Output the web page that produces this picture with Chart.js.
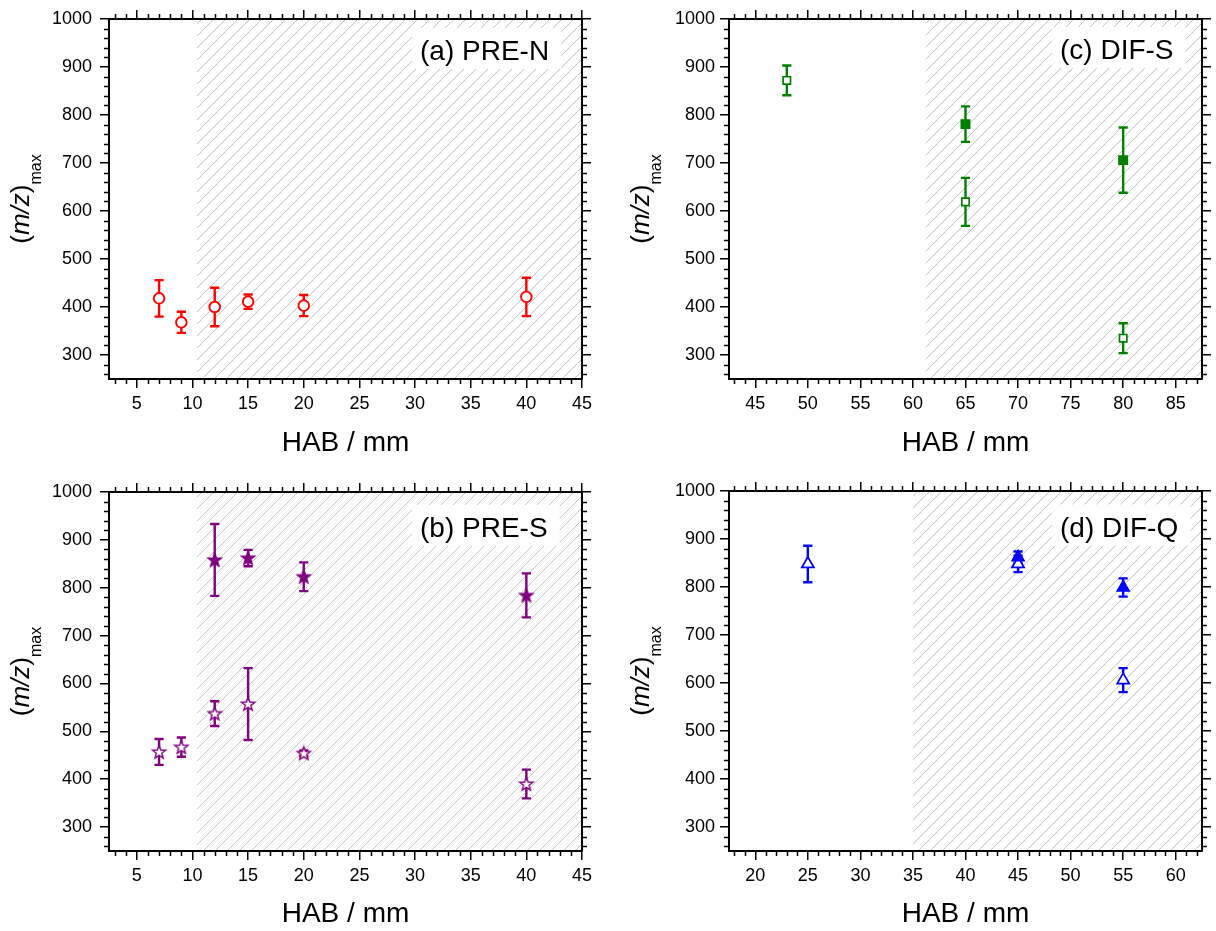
<!DOCTYPE html>
<html>
<head>
<meta charset="utf-8">
<title>(m/z)max vs HAB</title>
<script src="https://cdn.jsdelivr.net/npm/chart.js@4.4.1/dist/chart.umd.min.js"></script>
<style>
  html, body { margin: 0; padding: 0; background: #fff; }
  #wrap { position: relative; width: 1216px; height: 931px; overflow: hidden; }
  #wrap canvas { position: absolute; }
</style>
</head>
<body>
<div id="wrap">
  <canvas id="panelA" width="608" height="465" style="left:0;top:0"></canvas>
  <canvas id="panelC" width="608" height="465" style="left:608px;top:0"></canvas>
  <canvas id="panelB" width="608" height="466" style="left:0;top:465px"></canvas>
  <canvas id="panelD" width="608" height="466" style="left:608px;top:465px"></canvas>
</div>
<script>
// ---- data: height above burner (mm), (m/z)max and its uncertainty ----
const preN_hab = [7, 9, 12, 15, 20, 40];
const preN_mz  = [418, 368, 400, 411, 403, 421];
const preN_err = [38, 22, 40, 15, 22, 40];

const preS_habFilled = [12, 15, 20, 40];
const preS_mzFilled  = [858, 862, 823, 784];
const preS_errFilled = [75, 17, 30, 46];
const preS_habOpen = [7, 9, 12, 15, 20, 40];
const preS_mzOpen  = [457, 467, 537, 557, 454, 390];
const preS_errOpen = [27, 20, 26, 75, 6, 30];

const difS_habFilled = [65, 80];
const difS_mzFilled  = [781, 706];
const difS_errFilled = [37, 68];
const difS_habOpen = [48, 65, 80];
const difS_mzOpen  = [872, 619, 335];
const difS_errOpen = [31, 50, 31];

const difQ_habFilled = [45, 55];
const difQ_mzFilled  = [862, 799];
const difQ_errFilled = [12, 19];
const difQ_habOpen = [25, 45, 55];
const difQ_mzOpen  = [848, 848, 606];
const difQ_errOpen = [38, 17, 25];

// axis ticks and ranges
const yTicks = [300, 400, 500, 600, 700, 800, 900, 1000];
const yRange = [250, 1000];
const xTicksPre  = [5, 10, 15, 20, 25, 30, 35, 40, 45];
const xTicksDifS = [45, 50, 55, 60, 65, 70, 75, 80, 85];
const xTicksDifQ = [20, 25, 30, 35, 40, 45, 50, 55, 60];
const xRangePre  = [2.5, 45];
const xRangeDifS = [42.5, 87.5];
const xRangeDifQ = [17.5, 62.5];

// start of the shaded (hatched) HAB zone in each panel
const hatchFromPre  = 10.4;
const hatchFromDifS = 61.2;
const hatchFromDifQ = 35;

const panelLabels = ['(a) PRE-N', '(b) PRE-S', '(c) DIF-S', '(d) DIF-Q'];
const xTitle = 'HAB / mm';

// ---- styling ----
const FONT = '"Liberation Sans", Arial, Helvetica, sans-serif';
const RED = '#ff0000', GREEN = '#008000', PURPLE = '#800080', BLUE = '#0000ff';

function pts(xs, ys) { return xs.map((x, i) => ({ x: x, y: ys[i] })); }

// five-pointed star marker as a small canvas
function starMarker(color, filled) {
  const c = document.createElement('canvas');
  c.width = 18; c.height = 18;
  const g = c.getContext('2d');
  const R = 7, r = 2.9, cx = 9, cy = 9.4;
  g.beginPath();
  for (let k = 0; k < 10; k++) {
    const rad = (k % 2 === 0) ? R : r;
    const a = -Math.PI / 2 + k * Math.PI / 5;
    const px = cx + rad * Math.cos(a), py = cy + rad * Math.sin(a);
    if (k === 0) g.moveTo(px, py); else g.lineTo(px, py);
  }
  g.closePath();
  g.fillStyle = filled ? color : '#ffffff';
  g.fill();
  g.lineWidth = 1.4;
  g.lineJoin = 'miter';
  g.strokeStyle = color;
  g.stroke();
  return c;
}

// hatch, panel label, error bars, minor ticks and axis titles
const panelDecor = {
  id: 'panelDecor',
  beforeDatasetsDraw(chart, args, o) {
    const ctx = chart.ctx, a = chart.chartArea;
    const xs = chart.scales.x, ys = chart.scales.y;

    // diagonal hatch over the shaded HAB zone
    const hx = xs.getPixelForValue(o.hatchFrom);
    ctx.save();
    ctx.beginPath();
    ctx.rect(hx, a.top + 1, a.right - 1 - hx, a.bottom - a.top - 2);
    ctx.clip();
    ctx.strokeStyle = '#c4c4c4';
    ctx.lineWidth = 1;
    const H = a.bottom - a.top;
    ctx.beginPath();
    for (let x0 = a.right - H - 2000; x0 < a.right + 10; x0 += 12) {
      if (x0 + H < hx - 5) continue;
      ctx.moveTo(x0, a.bottom);
      ctx.lineTo(x0 + H, a.top);
    }
    ctx.stroke();
    ctx.restore();

    // panel label on a white patch
    ctx.save();
    ctx.font = '28px ' + FONT;
    const tw = ctx.measureText(o.label).width;
    const lx = a.left + o.labelDx, ly = a.top + o.labelDy;
    ctx.fillStyle = '#ffffff';
    ctx.fillRect(lx - 8, ly - 32, tw + 20, 41);
    ctx.fillStyle = '#000';
    ctx.textBaseline = 'alphabetic';
    ctx.textAlign = 'left';
    ctx.fillText(o.label, lx, ly);
    ctx.restore();

    // vertical error bars with caps
    chart.data.datasets.forEach((ds, i) => {
      const meta = chart.getDatasetMeta(i);
      ctx.save();
      ctx.strokeStyle = ds.borderColor;
      ctx.lineWidth = 2.4;
      ctx.lineCap = 'butt';
      meta.data.forEach((el, j) => {
        const v = ds.data[j].y, e = ds.errors[j];
        const px = xs.getPixelForValue(ds.data[j].x);
        const yt = ys.getPixelForValue(v + e), yb = ys.getPixelForValue(v - e);
        ctx.beginPath();
        ctx.moveTo(px, yt); ctx.lineTo(px, yb);
        ctx.moveTo(px - 4.6, yt); ctx.lineTo(px + 4.6, yt);
        ctx.moveTo(px - 4.6, yb); ctx.lineTo(px + 4.6, yb);
        ctx.stroke();
      });
      ctx.restore();
    });
  },
  afterDraw(chart, args, o) {
    const ctx = chart.ctx, a = chart.chartArea;
    const xs = chart.scales.x, ys = chart.scales.y;

    // minor ticks on all four sides, pointing outwards
    ctx.save();
    ctx.strokeStyle = '#000';
    ctx.lineWidth = 1.5;
    ctx.beginPath();
    const L = 5;
    for (let k = Math.ceil(xs.min / o.xMinor); k * o.xMinor <= xs.max + 1e-9; k++) {
      const v = k * o.xMinor;
      if (o.xMajor.some(m => Math.abs(m - v) < 1e-9)) continue;
      const p = Math.round(xs.getPixelForValue(v)) + 0.5;
      ctx.moveTo(p, a.bottom); ctx.lineTo(p, a.bottom + L);
      ctx.moveTo(p, a.top); ctx.lineTo(p, a.top - L);
    }
    for (let k = Math.ceil(ys.min / o.yMinor); k * o.yMinor <= ys.max + 1e-9; k++) {
      const v = k * o.yMinor;
      if (yTicks.some(m => Math.abs(m - v) < 1e-9)) continue;
      const p = Math.round(ys.getPixelForValue(v)) + 0.5;
      ctx.moveTo(a.left, p); ctx.lineTo(a.left - L, p);
      ctx.moveTo(a.right, p); ctx.lineTo(a.right + L, p);
    }
    ctx.stroke();
    ctx.restore();

    // x axis title
    ctx.save();
    ctx.fillStyle = '#000';
    ctx.font = '28px ' + FONT;
    ctx.textAlign = 'center';
    ctx.textBaseline = 'alphabetic';
    ctx.fillText(xTitle, (a.left + a.right) / 2, a.bottom + o.xTitleDy);
    ctx.restore();

    // y axis title: (m/z)_max, rotated
    ctx.save();
    ctx.translate(a.left - 80, (a.top + a.bottom) / 2);
    ctx.rotate(-Math.PI / 2);
    ctx.fillStyle = '#000';
    ctx.textBaseline = 'alphabetic';
    ctx.textAlign = 'left';
    const parts = [
      ['(', '26px ' + FONT, 0],
      ['m/z', 'italic 26px ' + FONT, 0],
      [')', '26px ' + FONT, 0],
      ['max', '16px ' + FONT, 12]
    ];
    let W = 0;
    parts.forEach(p => { ctx.font = p[1]; W += ctx.measureText(p[0]).width; });
    let cx = -W / 2;
    parts.forEach(p => {
      ctx.font = p[1];
      ctx.fillText(p[0], cx, p[2]);
      cx += ctx.measureText(p[0]).width;
    });
    ctx.restore();
  }
};

function fixedTicks(list) {
  return function (scale) { scale.ticks = list.map(v => ({ value: v })); };
}

function makePanel(id, p) {
  const border = { display: true, color: '#000', width: 2 };
  const grid = { display: true, drawOnChartArea: false, drawTicks: true, tickLength: 9, color: '#000', lineWidth: 1.5 };
  const tickFont = { family: FONT, size: 18 };
  return new Chart(document.getElementById(id), {
    type: 'scatter',
    data: { datasets: p.datasets },
    options: {
      responsive: false,
      animation: false,
      devicePixelRatio: 1,
      layout: { padding: 0 },
      plugins: {
        legend: { display: false },
        tooltip: { enabled: false },
        panelDecor: {
          hatchFrom: p.hatchFrom, label: p.label,
          labelDx: p.labelDx, labelDy: p.labelDy, xTitleDy: p.xTitleDy,
          xMinor: 1, yMinor: 20, xMajor: p.xTicks
        }
      },
      scales: {
        x: {
          type: 'linear', position: 'bottom', min: p.xRange[0], max: p.xRange[1],
          afterBuildTicks: fixedTicks(p.xTicks),
          afterFit: s => { s.height = p.box.bottom; },
          ticks: { font: tickFont, color: '#000', padding: 5, maxRotation: 0, autoSkip: false, callback: v => String(v) },
          grid: grid, border: border
        },
        x2: {
          type: 'linear', position: 'top', min: p.xRange[0], max: p.xRange[1],
          afterBuildTicks: fixedTicks(p.xTicks),
          afterFit: s => { s.height = p.box.top; },
          ticks: { display: false },
          grid: grid, border: border
        },
        y: {
          type: 'linear', position: 'left', min: yRange[0], max: yRange[1],
          afterBuildTicks: fixedTicks(yTicks),
          afterFit: s => { s.width = p.box.left; },
          ticks: { font: tickFont, color: '#000', padding: p.yPad, autoSkip: false, callback: v => String(v) },
          grid: grid, border: border
        },
        y2: {
          type: 'linear', position: 'right', min: yRange[0], max: yRange[1],
          afterBuildTicks: fixedTicks(yTicks),
          afterFit: s => { s.width = p.box.right; },
          ticks: { display: false },
          grid: grid, border: border
        }
      }
    },
    plugins: [panelDecor]
  });
}

const starFilled = starMarker(PURPLE, true);
const starOpen = starMarker(PURPLE, false);

makePanel('panelA', {
  label: panelLabels[0], xRange: xRangePre, xTicks: xTicksPre, hatchFrom: hatchFromPre,
  box: { left: 109, right: 26, top: 19, bottom: 86 }, yPad: 8,
  labelDx: 311, labelDy: 41, xTitleDy: 72,
  datasets: [{
    data: pts(preN_hab, preN_mz), errors: preN_err,
    pointStyle: 'circle', pointRadius: 5.3, borderWidth: 1.9,
    borderColor: RED, backgroundColor: '#ffffff'
  }]
});

makePanel('panelB', {
  label: panelLabels[1], xRange: xRangePre, xTicks: xTicksPre, hatchFrom: hatchFromPre,
  box: { left: 109, right: 26, top: 27, bottom: 80 }, yPad: 8,
  labelDx: 311, labelDy: 45, xTitleDy: 71,
  datasets: [{
    data: pts(preS_habFilled, preS_mzFilled), errors: preS_errFilled,
    pointStyle: starFilled, pointRadius: 7, borderColor: PURPLE, backgroundColor: PURPLE
  }, {
    data: pts(preS_habOpen, preS_mzOpen), errors: preS_errOpen,
    pointStyle: starOpen, pointRadius: 7, borderColor: PURPLE, backgroundColor: '#ffffff'
  }]
});

makePanel('panelC', {
  label: panelLabels[2], xRange: xRangeDifS, xTicks: xTicksDifS, hatchFrom: hatchFromDifS,
  box: { left: 121, right: 14, top: 19, bottom: 86 }, yPad: 5,
  labelDx: 331, labelDy: 40, xTitleDy: 72,
  datasets: [{
    data: pts(difS_habFilled, difS_mzFilled), errors: difS_errFilled,
    pointStyle: 'rect', pointRadius: 6, borderWidth: 1.5,
    borderColor: GREEN, backgroundColor: GREEN
  }, {
    data: pts(difS_habOpen, difS_mzOpen), errors: difS_errOpen,
    pointStyle: 'rect', pointRadius: 5.2, borderWidth: 1.7,
    borderColor: GREEN, backgroundColor: '#ffffff'
  }]
});

makePanel('panelD', {
  label: panelLabels[3], xRange: xRangeDifQ, xTicks: xTicksDifQ, hatchFrom: hatchFromDifQ,
  box: { left: 121, right: 14, top: 26, bottom: 80 }, yPad: 5,
  labelDx: 331, labelDy: 45.5, xTitleDy: 71,
  datasets: [{
    data: pts(difQ_habFilled, difQ_mzFilled), errors: difQ_errFilled,
    pointStyle: 'triangle', pointRadius: 7, borderWidth: 1.5,
    borderColor: BLUE, backgroundColor: BLUE
  }, {
    data: pts(difQ_habOpen, difQ_mzOpen), errors: difQ_errOpen,
    pointStyle: 'triangle', pointRadius: 7, borderWidth: 1.7,
    borderColor: BLUE, backgroundColor: '#ffffff'
  }]
});
</script>
</body>
</html>
